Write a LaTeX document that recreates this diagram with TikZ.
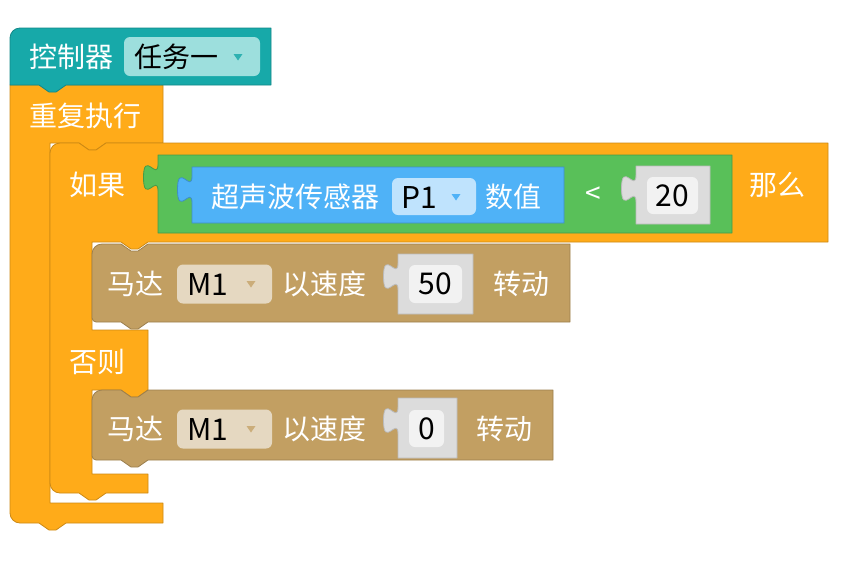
\documentclass[tikz,border=0pt]{standalone}
\usepackage{fontspec}
\setmainfont{Noto Sans CJK SC}
\usetikzlibrary{positioning}
\definecolor{ctrlTeal}{HTML}{17A9A9}
\definecolor{ctrlField}{HTML}{9DDFDD}
\definecolor{loopOrange}{HTML}{FFAB19}
\definecolor{condGreen}{HTML}{59C059}
\definecolor{sensorBlue}{HTML}{4FB2F7}
\definecolor{sensorField}{HTML}{BFE3FD}
\definecolor{motorBrown}{HTML}{C29F62}
\definecolor{motorField}{HTML}{E5D8C1}
\definecolor{slotGrey}{HTML}{DCDCDC}
\definecolor{slotField}{HTML}{F2F2F2}
% notch in a top edge (left to right) and tab under a bottom edge (right to left)
\newcommand{\notchFwd}{-- ++(10,7) -- ++(7,0) -- ++(10,-7)}
\newcommand{\notchBack}{-- ++(-10,7) -- ++(-7,0) -- ++(-10,-7)}
% puzzle tab on a left edge at x=#1, block top y=#2, drawn upwards
\newcommand{\puzzleTab}[2]{-- (#1,#2+36) .. controls (#1,#2+18) and (#1-14.5,#2+50.4) .. (#1-14.5,#2+22.5)
  .. controls (#1-14.5,#2-5.4) and (#1,#2+27) .. (#1,#2+9)}
\newcommand{\ddArrow}[3]{\fill[#3] (#1-4.5,#2-3) -- (#1+4.5,#2-3) -- (#1,#2+3.5) -- cycle;}

\begin{document}
\begin{tikzpicture}[x=1pt, y=-1pt,
    blk/.style={line width=0.8pt, line join=round},
    word/.style={text=white, inner sep=0pt, anchor=west, font=\fontsize{28}{32}\selectfont},
    val/.style={text=black, inner sep=0pt, font=\fontsize{30}{34}\selectfont},
    field/.style={rounded corners=6pt}]
  \useasboundingbox (0,0) rectangle (850,563);

  % repeat block (outer C)
  \filldraw[blk, fill=loopOrange, draw=loopOrange!80!black]
    (10,85) -- (163,85) -- (163,143) -- (106,143) \notchBack -- (50,143)
    -- (50,503) -- (163,503) -- (163,523) -- (66,523) \notchBack -- (20,523)
    .. controls (14.5,523) and (10,518.5) .. (10,513) -- cycle;
  \node[word] (repeatLbl) at (29,116) {重复执行};

  % controller hat
  \filldraw[blk, fill=ctrlTeal, draw=ctrlTeal!80!black]
    (10,38) .. controls (10,32.5) and (14.5,28) .. (20,28) -- (271,28) -- (271,85)
    -- (66,85) \notchBack -- (10,85) -- cycle;
  \node[word] (ctrlLbl) at (29,57) {控制器};
  \fill[field, ctrlField] (124,37) rectangle (260,76);
  \node[val, anchor=west, font=\fontsize{28}{32}\selectfont] (taskVal) at (134,57) {任务一};
  \ddArrow{238}{57}{ctrlTeal!90!white}

  % if / else block
  \filldraw[blk, fill=loopOrange, draw=loopOrange!80!black]
    (60,143) -- (79,143) \notchFwd -- (828,143) -- (828,242) -- (148,242) \notchBack
    -- (92,242) -- (92,330) -- (148,330) -- (148,390) \notchBack -- (92,390) -- (92,474)
    -- (148,474) -- (148,493) -- (106,493) \notchBack -- (60,493)
    .. controls (54.5,493) and (50,488.5) .. (50,483) -- (50,153)
    .. controls (50,147.5) and (54.5,143) .. (60,143) -- cycle;
  \node[word] (ifLbl) at (69,185) {如果};
  \node[word] (thenLbl) at (749,185) {那么};
  \node[word] (elseLbl) at (69,362) {否则};

  % condition: sensor < 20
  \filldraw[blk, fill=condGreen, draw=condGreen!80!black]
    (158,155) -- (732,155) -- (732,233) -- (158,233) \puzzleTab{158}{155} -- cycle;
  \filldraw[blk, fill=sensorBlue, draw=sensorBlue!80!black]
    (192,167) -- (564,167) -- (564,223) -- (192,223) \puzzleTab{192}{167} -- cycle;
  \node[word] (sensorLbl) at (211,197) {超声波传感器};
  \fill[field, sensorField] (392,178) rectangle (476,215);
  \node[val, anchor=west] (portVal) at (401,197) {P1};
  \ddArrow{456}{197}{sensorBlue}
  \node[word] (readLbl) at (485,197) {数值};
  \node[word] (ltLbl) at (585,195) {<};
  \filldraw[blk, fill=slotGrey, draw=slotGrey!85!black]
    (636,166) -- (710,166) -- (710,224) -- (636,224) \puzzleTab{636}{166} -- cycle;
  \fill[field, slotField] (647,177) rectangle (698,214);
  \node[val] (limitVal) at (672.5,196) {20};

  % motor blocks
  \foreach \n/\t/\b/\r/\m/\sr/\st/\sb/\fr/\fb/\v/\tx in
      {1/244/322/570/284/473/254/314/462/303/50/493,
       2/390/460/553/429/457/398/458/444/447/0/476} {
    \filldraw[blk, fill=motorBrown, draw=motorBrown!80!black]
      (102,\t) -- (121,\t) \notchFwd -- (\r,\t) -- (\r,\b) -- (148,\b) \notchBack
      -- (96,\b) .. controls (94,\b) and (92,\b-2) .. (92,\b-4) -- (92,\t+10)
      .. controls (92,\t+4.5) and (96.5,\t) .. (102,\t) -- cycle;
    \node[word] (motorLbl\n) at (107,\m) {马达};
    \fill[field, motorField] (177,\m-19.5) rectangle (272,\m+19.5);
    \node[val, anchor=west] (motorPort\n) at (187,\m) {M1};
    \ddArrow{251}{\m}{motorBrown!85!white}
    \node[word] (speedLbl\n) at (282,\m) {以速度};
    \filldraw[blk, fill=slotGrey, draw=slotGrey!85!black]
      (398,\st) -- (\sr,\st) -- (\sr,\sb) -- (398,\sb) \puzzleTab{398}{\st} -- cycle;
    \fill[field, slotField] (409,\m-19) rectangle (\fr,\fb);
    \node[val] (speedVal\n) at ({(409+\fr)/2},{(\m-19+\fb)/2}) {\v};
    \node[word] (turnLbl\n) at (\tx,\m) {转动};
  }
\end{tikzpicture}
\end{document}
